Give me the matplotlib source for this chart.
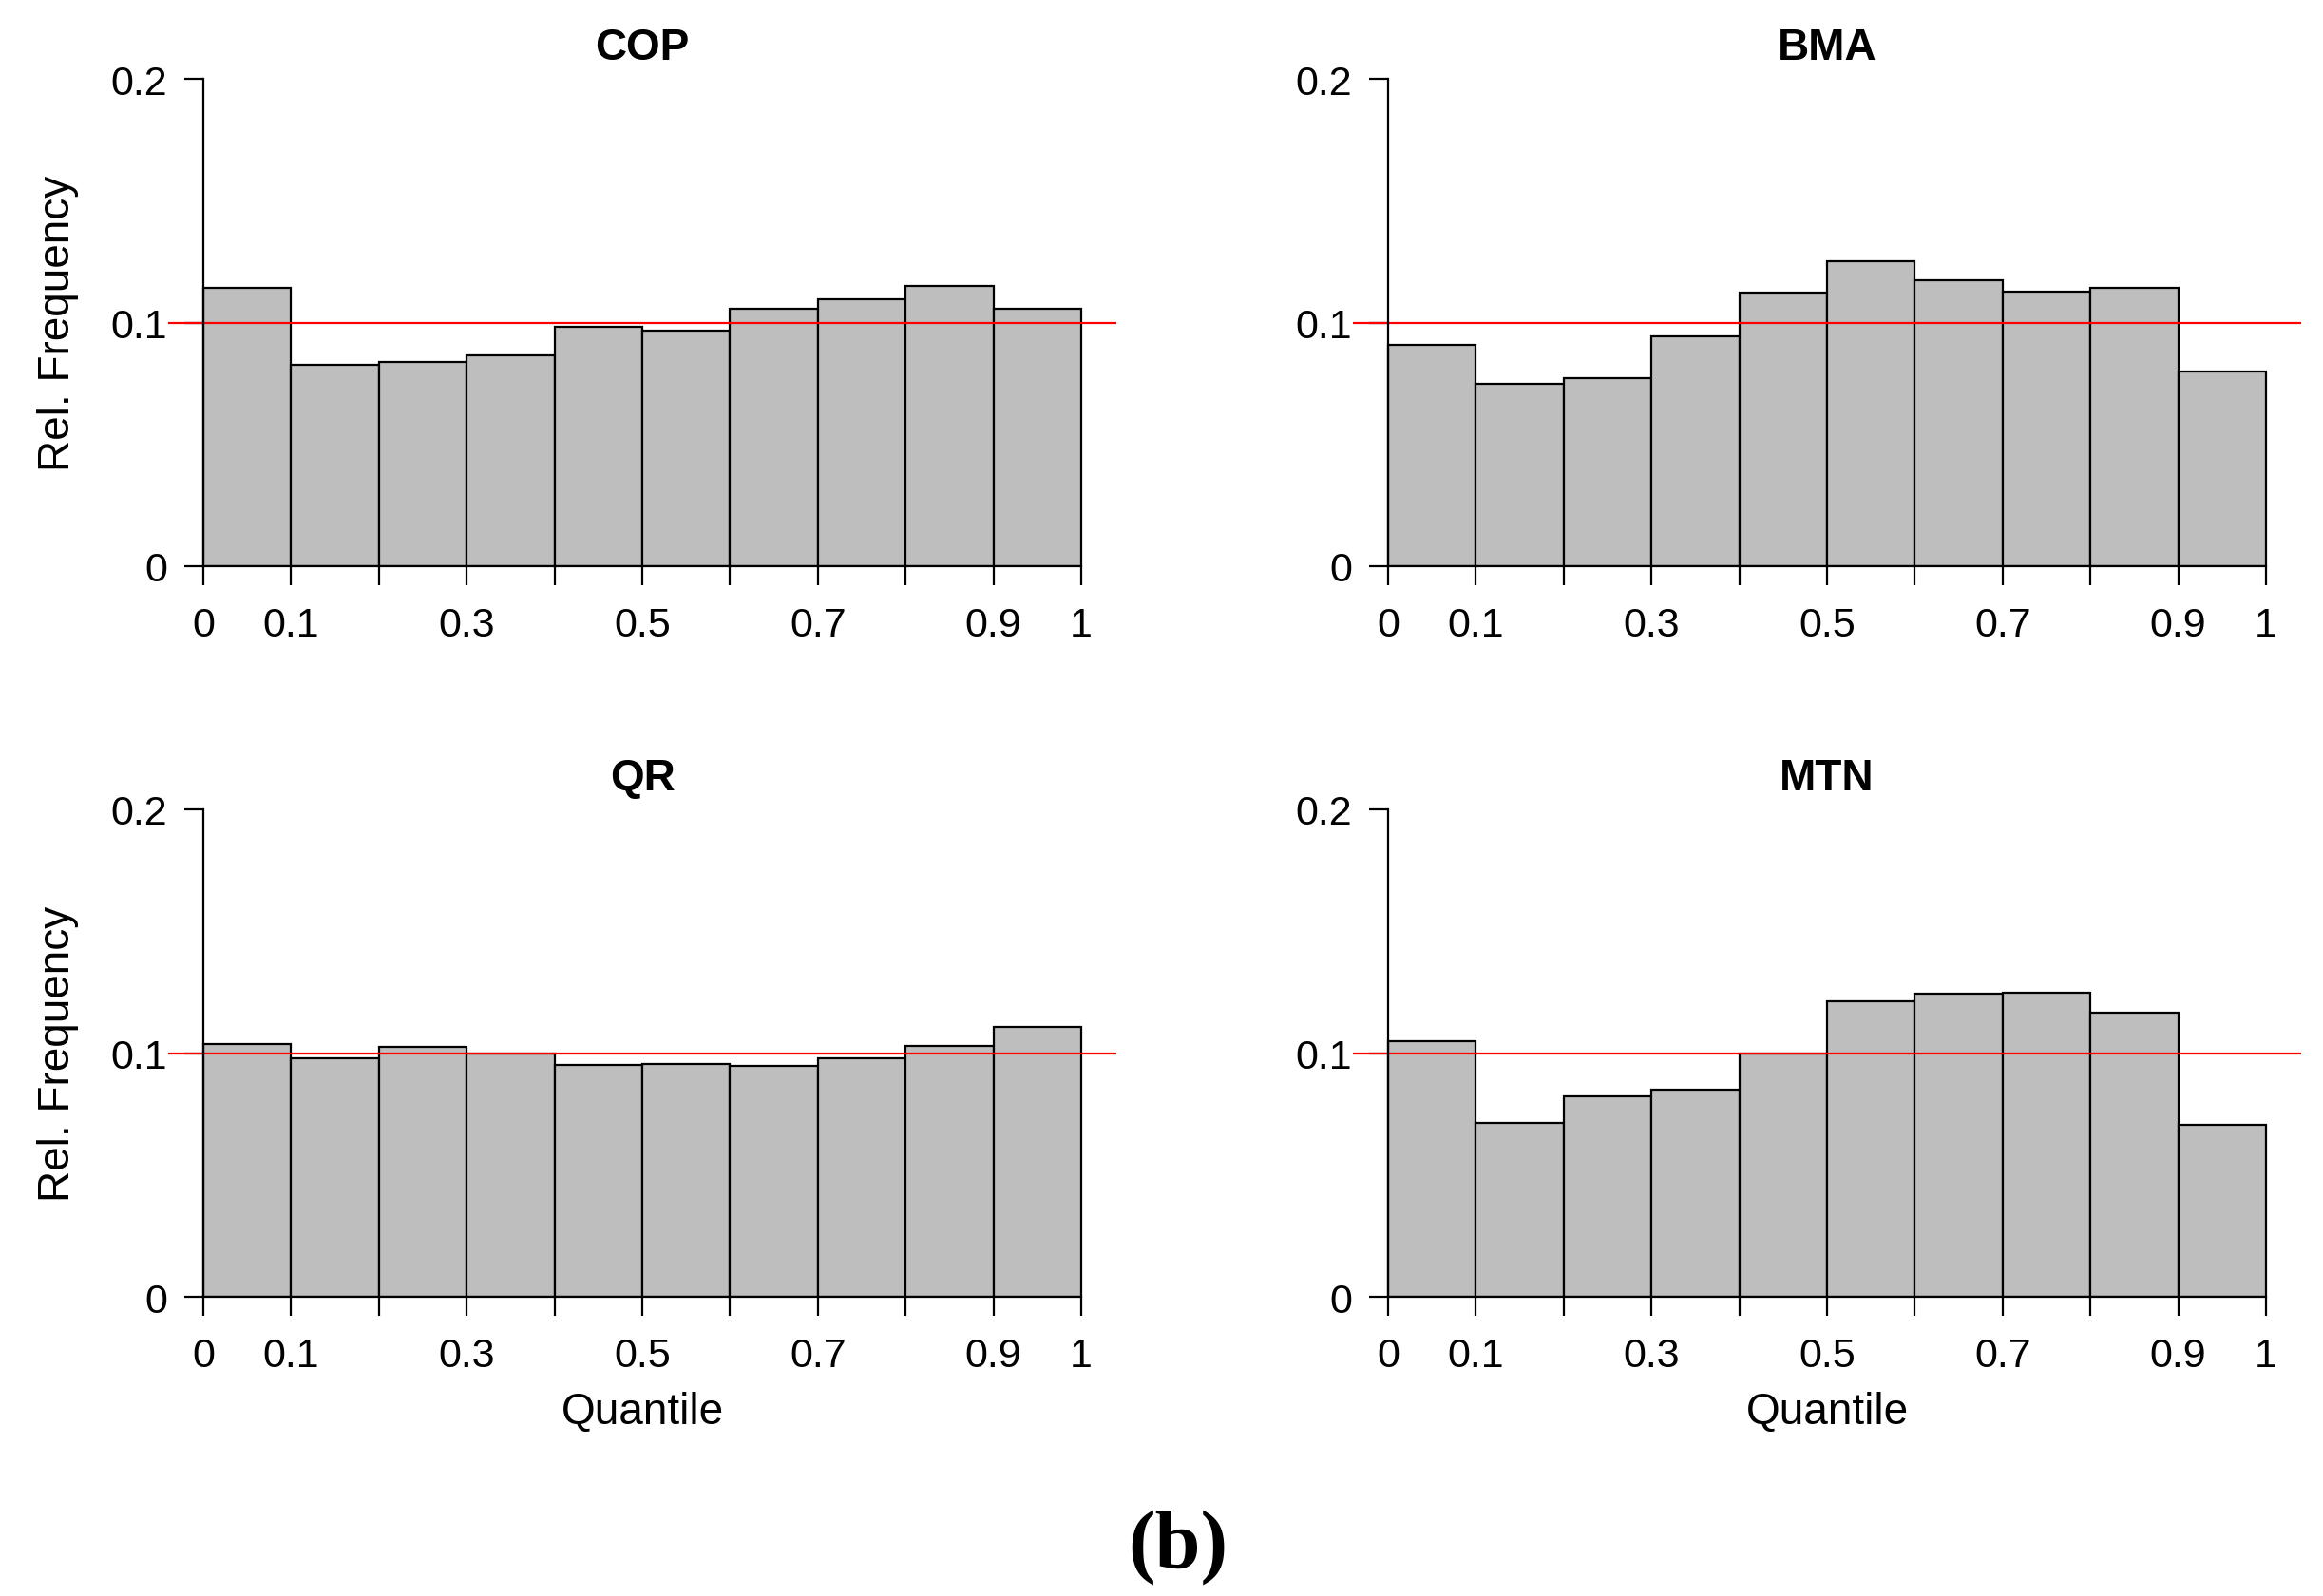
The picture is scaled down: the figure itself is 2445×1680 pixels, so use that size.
import numpy as np
import matplotlib
matplotlib.use("Agg")
import matplotlib.pyplot as plt

plt.rcParams['font.family'] = ['Liberation Sans', 'DejaVu Sans']

# relative frequency per decile bin
edges = [0.0, 0.1, 0.2, 0.3, 0.4, 0.5, 0.6, 0.7, 0.8, 0.9, 1.0]
cop = [0.1144, 0.0828, 0.0840, 0.0866, 0.0981, 0.0967, 0.1057, 0.1097, 0.1151, 0.1056]
bma = [0.0908, 0.0750, 0.0771, 0.0944, 0.1123, 0.1250, 0.1172, 0.1125, 0.1141, 0.0799]
qr = [0.1038, 0.0977, 0.1027, 0.0998, 0.0950, 0.0955, 0.0948, 0.0977, 0.1029, 0.1109]
mtn = [0.1048, 0.0714, 0.0823, 0.0850, 0.0998, 0.1213, 0.1243, 0.1248, 0.1164, 0.0707]
titles = ['COP', 'BMA', 'QR', 'MTN']
xtick_labels = ['0', '0.1', '', '0.3', '', '0.5', '', '0.7', '', '0.9', '1']
ytick_labels = ['0', '0.1', '0.2']
uniform = 0.1

fig = plt.figure(figsize=(24.45, 16.81), dpi=100)

W, H = 2445, 1681
panels = [
    (cop, 177, 84, True, False),
    (bma, 1424, 84, False, False),
    (qr, 177, 853, True, True),
    (mtn, 1424, 853, False, True),
]

for (vals, px, py, show_ylab, show_xlab), title in zip(panels, titles):
    ax = fig.add_axes([px / W, 1 - (py + 513) / H, 998 / W, 513 / H])
    ax.bar(edges[:-1], vals, width=0.1, align='edge', color='#bebebe',
           edgecolor='black', linewidth=1.6, zorder=2)
    ax.axhline(uniform, color='red', linewidth=1.6, zorder=3)
    ax.set_xlim(-0.04, 1.04)
    ax.set_ylim(0, 0.2)

    for s in ['top', 'right']:
        ax.spines[s].set_visible(False)
    ax.spines['left'].set_position(('data', 0))
    ax.spines['left'].set_bounds(0, 0.2)
    ax.spines['bottom'].set_bounds(0, 1)
    for s in ['left', 'bottom']:
        ax.spines[s].set_linewidth(1.6)
        ax.spines[s].set_zorder(4)

    ax.set_xticks(edges)
    ax.set_xticklabels(xtick_labels)
    ax.set_yticks([0, 0.1, 0.2])
    ax.set_yticklabels(ytick_labels)
    ax.tick_params(axis='both', direction='out', length=14.5, width=1.6,
                   labelsize=31, pad=13)
    ax.tick_params(axis='x', pad=16)

    ax.set_title(title, fontsize=33, fontweight='bold', pad=15)
    if show_ylab:
        ax.set_ylabel('Rel. Frequency', fontsize=33, labelpad=24)
    if show_xlab:
        ax.set_xlabel('Quantile', fontsize=33, labelpad=12)

fig.text(0.507, 0.031, '(b)', fontsize=62, fontweight='bold',
         family='Liberation Serif', ha='center', va='center')

fig.savefig('out.png', dpi=100)
